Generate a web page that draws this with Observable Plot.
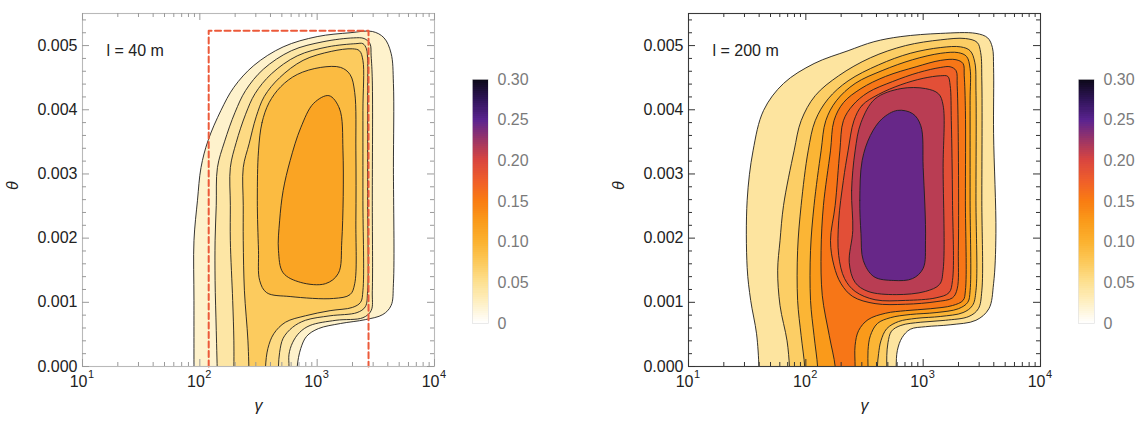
<!DOCTYPE html>
<html><head><meta charset="utf-8">
<script src="https://cdn.jsdelivr.net/npm/d3@7"></script>
<script src="https://cdn.jsdelivr.net/npm/@observablehq/plot@0.6"></script>
<style>
html,body{margin:0;padding:0;background:#fff;}
#wrap{position:relative;width:1142px;height:421px;overflow:hidden;}
#wrap svg{position:absolute;top:0;}
</style></head>
<body><div id="wrap"></div>
<script>
// ---------- axis / legend values ----------
const decades = [10, 100, 1000, 10000];
const decadeExp = ["1", "2", "3", "4"];
const thetaTicks = [0, 0.001, 0.002, 0.003, 0.004, 0.005];
const barTicks = [0, 0.05, 0.10, 0.15, 0.20, 0.25, 0.30];
const barTickLabels = ["0", "0.05", "0.10", "0.15", "0.20", "0.25", "0.30"];
const colorStops = [0, 0.025, 0.05, 0.075, 0.10, 0.125, 0.15, 0.175, 0.20, 0.225, 0.25, 0.275, 0.30];
const colorHex = ["#ffffff","#fef0c5","#fde090","#fcc95a","#fbb230","#fa9a1a","#f97c12","#ef5f2a","#d9453f","#9b3566","#5a2390","#2e1456","#0b0816"];

// ---------- contour outlines: [log10(gamma), theta x 1e3] ----------
// panel l = 40 m (outer -> inner)
const l40_c1 = [[1.95,-0.53],[1.95,-0.22],[1.95,1.03],[1.95,1.96],[1.98,2.59],[2.01,3.10],[2.07,3.52],[2.18,3.99],[2.29,4.35],[2.46,4.69],[2.71,4.98],[3.00,5.14],[3.28,5.20],[3.47,5.22],[3.57,5.12],[3.63,4.88],[3.65,4.41],[3.65,3.10],[3.65,1.29],[3.63,0.95],[3.56,0.81],[3.41,0.73],[3.20,0.67],[3.01,0.59],[2.91,0.47],[2.86,0.28],[2.83,0],[2.83,-0.22],[2.83,-0.53]];
const l40_c2 = [[2.15,-0.53],[2.15,-0.22],[2.14,0.56],[2.13,1.34],[2.13,1.96],[2.14,2.51],[2.15,3.10],[2.21,3.50],[2.30,3.96],[2.39,4.30],[2.54,4.63],[2.78,4.92],[3.05,5.06],[3.31,5.12],[3.40,5.11],[3.45,5.03],[3.46,4.84],[3.47,4.45],[3.47,2.59],[3.47,1.18],[3.46,0.87],[3.39,0.76],[3.16,0.72],[2.94,0.64],[2.85,0.53],[2.79,0.37],[2.76,0.19],[2.76,0],[2.76,-0.22],[2.76,-0.53]];
const l40_c3 = [[2.29,-0.53],[2.29,-0.22],[2.29,0.40],[2.28,1.03],[2.26,1.96],[2.26,2.51],[2.26,3.10],[2.31,3.49],[2.39,3.93],[2.47,4.25],[2.61,4.56],[2.83,4.84],[3.09,4.98],[3.33,5.03],[3.39,5.03],[3.42,4.95],[3.43,4.77],[3.43,4.30],[3.43,2.59],[3.43,1.18],[3.41,0.93],[3.34,0.84],[3.11,0.79],[2.90,0.72],[2.79,0.61],[2.71,0.44],[2.68,0.22],[2.67,0],[2.67,-0.22],[2.67,-0.53]];
const l40_c4 = [[2.42,-0.53],[2.42,-0.22],[2.41,0.40],[2.38,1.18],[2.37,1.96],[2.37,2.51],[2.37,3.10],[2.42,3.47],[2.48,3.89],[2.55,4.21],[2.68,4.50],[2.88,4.77],[3.12,4.91],[3.30,4.95],[3.36,4.92],[3.39,4.77],[3.39,3.99],[3.39,2.59],[3.39,1.18],[3.37,1.00],[3.30,0.92],[3.11,0.87],[2.90,0.79],[2.73,0.69],[2.63,0.51],[2.58,0.28],[2.56,0],[2.56,-0.22],[2.56,-0.53]];
const l40_c5 = [[2.50,3.36],[2.53,3.80],[2.59,4.11],[2.69,4.36],[2.83,4.55],[3.03,4.66],[3.20,4.66],[3.28,4.55],[3.32,4.27],[3.33,3.36],[3.33,2.27],[3.32,1.29],[3.28,1.12],[3.14,1.06],[2.77,1.09],[2.57,1.15],[2.51,1.34],[2.50,1.81],[2.49,2.59]];
const l40_c6 = [[3.10,4.22],[3.19,4.02],[3.22,3.36],[3.21,1.96],[3.18,1.45],[3.07,1.29],[2.86,1.31],[2.71,1.46],[2.67,1.81],[2.68,2.27],[2.71,2.74],[2.77,3.21],[2.86,3.72],[2.97,4.10]];
const l40_band = [0.022, 0.040, 0.056, 0.073, 0.090, 0.115];

// panel l = 200 m (outer -> inner)
const l200_c1 = [[1.60,-0.53],[1.60,-0.22],[1.60,0],[1.58,0.51],[1.53,1.03],[1.50,1.54],[1.50,2.59],[1.55,3.36],[1.64,3.99],[1.81,4.41],[2.07,4.72],[2.36,4.92],[2.58,5.06],[2.81,5.14],[3.15,5.19],[3.45,5.19],[3.55,5.12],[3.59,4.97],[3.60,4.66],[3.60,3.63],[3.62,2.07],[3.60,1.29],[3.56,0.90],[3.45,0.72],[3.23,0.65],[3.02,0.62],[2.89,0.58],[2.82,0.45],[2.78,0.25],[2.77,0],[2.77,-0.22],[2.77,-0.53]];
const l200_c2 = [[1.86,-0.53],[1.86,-0.22],[1.86,0],[1.84,0.40],[1.78,0.95],[1.76,1.50],[1.78,1.96],[1.81,2.51],[1.90,3.36],[1.96,3.83],[2.08,4.22],[2.28,4.53],[2.55,4.81],[2.85,5.00],[3.15,5.09],[3.36,5.11],[3.46,5.05],[3.49,4.89],[3.50,4.45],[3.50,2.59],[3.50,1.18],[3.47,0.90],[3.39,0.78],[3.19,0.72],[2.98,0.69],[2.81,0.64],[2.73,0.55],[2.70,0.37],[2.69,0.17],[2.69,0],[2.69,-0.22],[2.69,-0.53]];
const l200_c3 = [[1.99,-0.53],[1.99,-0.22],[1.99,0],[1.96,0.48],[1.93,1.03],[1.93,1.81],[1.96,2.51],[2.02,3.36],[2.08,3.83],[2.19,4.17],[2.36,4.45],[2.62,4.70],[2.89,4.88],[3.15,4.97],[3.32,4.98],[3.40,4.92],[3.44,4.74],[3.45,4.30],[3.45,2.59],[3.45,1.18],[3.42,0.95],[3.34,0.84],[3.15,0.78],[2.94,0.75],[2.79,0.70],[2.69,0.59],[2.64,0.40],[2.62,0.20],[2.61,0],[2.61,-0.22],[2.61,-0.53]];
const l200_c4 = [[2.10,-0.53],[2.10,-0.22],[2.10,0],[2.07,0.48],[2.04,1.03],[2.04,1.81],[2.07,2.51],[2.13,3.36],[2.17,3.83],[2.26,4.14],[2.42,4.41],[2.65,4.61],[2.91,4.78],[3.15,4.88],[3.30,4.89],[3.37,4.83],[3.40,4.64],[3.40,4.14],[3.40,2.59],[3.40,1.18],[3.38,1.00],[3.30,0.90],[3.11,0.84],[2.89,0.81],[2.72,0.76],[2.61,0.67],[2.55,0.48],[2.53,0.25],[2.53,0],[2.53,-0.22],[2.53,-0.53]];
const l200_c5 = [[2.25,-0.53],[2.25,-0.22],[2.25,0],[2.20,0.48],[2.14,1.11],[2.13,1.81],[2.15,2.51],[2.21,3.36],[2.24,3.83],[2.32,4.11],[2.47,4.33],[2.68,4.52],[2.94,4.67],[3.15,4.77],[3.28,4.78],[3.34,4.72],[3.35,4.53],[3.36,3.99],[3.36,2.59],[3.36,1.18],[3.34,1.03],[3.25,0.95],[3.06,0.90],[2.85,0.87],[2.68,0.83],[2.53,0.73],[2.45,0.56],[2.42,0.33],[2.42,0],[2.42,-0.22],[2.42,-0.53]];
const l200_c6 = [[2.32,3.83],[2.40,4.07],[2.53,4.27],[2.74,4.44],[2.96,4.58],[3.15,4.66],[3.23,4.67],[3.28,4.61],[3.29,4.38],[3.30,3.36],[3.30,1.81],[3.29,1.21],[3.25,1.07],[3.11,1.01],[2.85,0.97],[2.59,0.98],[2.40,1.09],[2.30,1.29],[2.24,1.57],[2.21,1.96],[2.25,2.51],[2.29,3.36]];
const l200_c7 = [[2.41,3.83],[2.48,4.07],[2.62,4.24],[2.81,4.39],[3.00,4.49],[3.15,4.53],[3.21,4.52],[3.23,4.38],[3.24,3.83],[3.25,2.59],[3.25,1.34],[3.22,1.15],[3.11,1.07],[2.85,1.03],[2.59,1.04],[2.42,1.17],[2.33,1.37],[2.28,1.73],[2.28,2.27],[2.32,2.90],[2.36,3.36]];
const l200_c8 = [[2.40,2.12],[2.39,2.74],[2.42,3.36],[2.47,3.80],[2.59,4.17],[2.81,4.33],[3.02,4.33],[3.13,4.25],[3.17,4.07],[3.17,3.10],[3.17,1.50],[3.14,1.28],[3.02,1.17],[2.77,1.12],[2.53,1.17],[2.42,1.31],[2.37,1.62]];
const l200_c9 = [[2.47,2.07],[2.46,2.59],[2.48,3.21],[2.55,3.60],[2.65,3.86],[2.78,3.99],[2.91,3.94],[2.98,3.75],[3.00,3.10],[3.02,1.96],[3.00,1.53],[2.91,1.37],[2.75,1.34],[2.58,1.40],[2.49,1.65]];
const l200_band = [0.043, 0.070, 0.097, 0.125, 0.155, 0.172, 0.190, 0.213, 0.245];

// dashed box on the l = 40 m panel
const box40_gamma = [119, 2740];
const box40_theta = [0, 0.00523];

// ---------- helpers ----------
const minorX = [];
for (const d of [10, 100, 1000]) for (let k = 2; k <= 9; k++) minorX.push(d * k);
const minorY = d3.range(1, 28).map(i => i * 0.0002).filter((v, i) => (i + 1) % 5 !== 0);

function contourRows(list, bands) {
  const rows = [];
  list.forEach((pts, i) => pts.forEach(([lg, t]) => rows.push({id: i, band: bands[i], g: Math.pow(10, lg), th: t / 1000})));
  return rows;
}
const colorScale = {type: "linear", domain: colorStops, range: colorHex, interpolate: "rgb"};
const baseStyle = {fontFamily: '"Liberation Sans", Arial, sans-serif', fontSize: "16px", color: "#222", background: "transparent", overflow: "visible"};

const W = 440, H = 421, ML = 82, MR = 6, MT = 13, MB = 55;
const innerW = W - ML - MR, innerH = H - MT - MB;

function panel(rows, label, frameColor, tickColor, extra) {
  return Plot.plot({
    width: W, height: H, marginLeft: ML, marginRight: MR, marginTop: MT, marginBottom: MB,
    style: baseStyle,
    x: {type: "log", domain: [10, 10000], axis: null},
    y: {domain: [0, 0.0055], axis: null},
    color: colorScale,
    marks: [
      Plot.line(rows, {x: "g", y: "th", z: "id", fill: "band", stroke: "#1e1e1e", strokeWidth: 0.9, curve: "catmull-rom-closed", clip: true}),
      ...extra,
      Plot.frame({stroke: frameColor, strokeWidth: 1.1}),
      Plot.tickX(decades, {x: d => d, insetTop: innerH - 7, stroke: tickColor}),
      Plot.tickX(decades, {x: d => d, insetBottom: innerH - 7, stroke: tickColor}),
      Plot.tickX(minorX, {x: d => d, insetTop: innerH - 4, stroke: tickColor}),
      Plot.tickX(minorX, {x: d => d, insetBottom: innerH - 4, stroke: tickColor}),
      Plot.tickY(thetaTicks, {y: d => d, insetRight: innerW - 7, stroke: tickColor}),
      Plot.tickY(thetaTicks, {y: d => d, insetLeft: innerW - 7, stroke: tickColor}),
      Plot.tickY(minorY, {y: d => d, insetRight: innerW - 4, stroke: tickColor}),
      Plot.tickY(minorY, {y: d => d, insetLeft: innerW - 4, stroke: tickColor}),
      Plot.text(thetaTicks, {x: () => 10, y: d => d, text: d => d3.format(".3f")(d), textAnchor: "end", dx: -5, fill: "#222"}),
      Plot.text(decades, {x: d => d, y: () => 0, text: () => "10", textAnchor: "end", dx: 5, dy: 15, fill: "#222"}),
      Plot.text(decades, {x: d => d, y: () => 0, text: (d, i) => decadeExp[i], textAnchor: "start", dx: 5.5, dy: 8, fontSize: 11, fill: "#222"}),
      Plot.text([label], {frameAnchor: "top-left", dx: 24, dy: 31, text: d => d, textAnchor: "start", fill: "#222"}),
      Plot.text(["θ"], {frameAnchor: "left", dx: -70, rotate: -90, fontStyle: "italic", text: d => d, fill: "#222"}),
      Plot.text(["γ"], {frameAnchor: "bottom", dy: 44, fontStyle: "italic", text: d => d, fill: "#222"})
    ]
  });
}

function colorbar() {
  const cells = d3.range(0, 120).map(i => ({y1: i * 0.0025, y2: Math.min(0.3, (i + 1) * 0.0025 + 0.0008), v: (i + 0.5) * 0.0025}));
  return Plot.plot({
    width: 80, height: H, marginLeft: 0, marginRight: 64, marginTop: 79, marginBottom: 98,
    style: baseStyle,
    y: {domain: [0, 0.3], axis: null},
    color: colorScale,
    marks: [
      Plot.rect(cells, {y1: "y1", y2: "y2", fill: "v", shapeRendering: "crispEdges"}),
      Plot.frame({stroke: "#e2e2e2", strokeWidth: 0.7}),
      Plot.text(barTicks, {y: d => d, frameAnchor: "right", text: (d, i) => barTickLabels[i], textAnchor: "start", dx: 9, fill: "#7a7a7a"})
    ]
  });
}

const boxRows = [
  {g: box40_gamma[0], th: box40_theta[0]},
  {g: box40_gamma[0], th: box40_theta[1]},
  {g: box40_gamma[1], th: box40_theta[1]},
  {g: box40_gamma[1], th: box40_theta[0]}
];

const leftRows = contourRows([l40_c1, l40_c2, l40_c3, l40_c4, l40_c5, l40_c6], l40_band);
const rightRows = contourRows([l200_c1, l200_c2, l200_c3, l200_c4, l200_c5, l200_c6, l200_c7, l200_c8, l200_c9], l200_band);

const wrap = document.getElementById("wrap");
const p1 = panel(leftRows, "l = 40 m", "#b9b9b9", "#9a9a9a", [
  Plot.line(boxRows, {x: "g", y: "th", stroke: "#ec5a3a", strokeWidth: 2, strokeDasharray: "6,3.5"})
]);
p1.style.left = "0px";
const c1 = colorbar(); c1.style.left = "472px";
const p2 = panel(rightRows, "l = 200 m", "#3a3a3a", "#333", []);
p2.style.left = "606px";
const c2 = colorbar(); c2.style.left = "1078px";
wrap.append(p1, c1, p2, c2);
</script>
</body></html>
